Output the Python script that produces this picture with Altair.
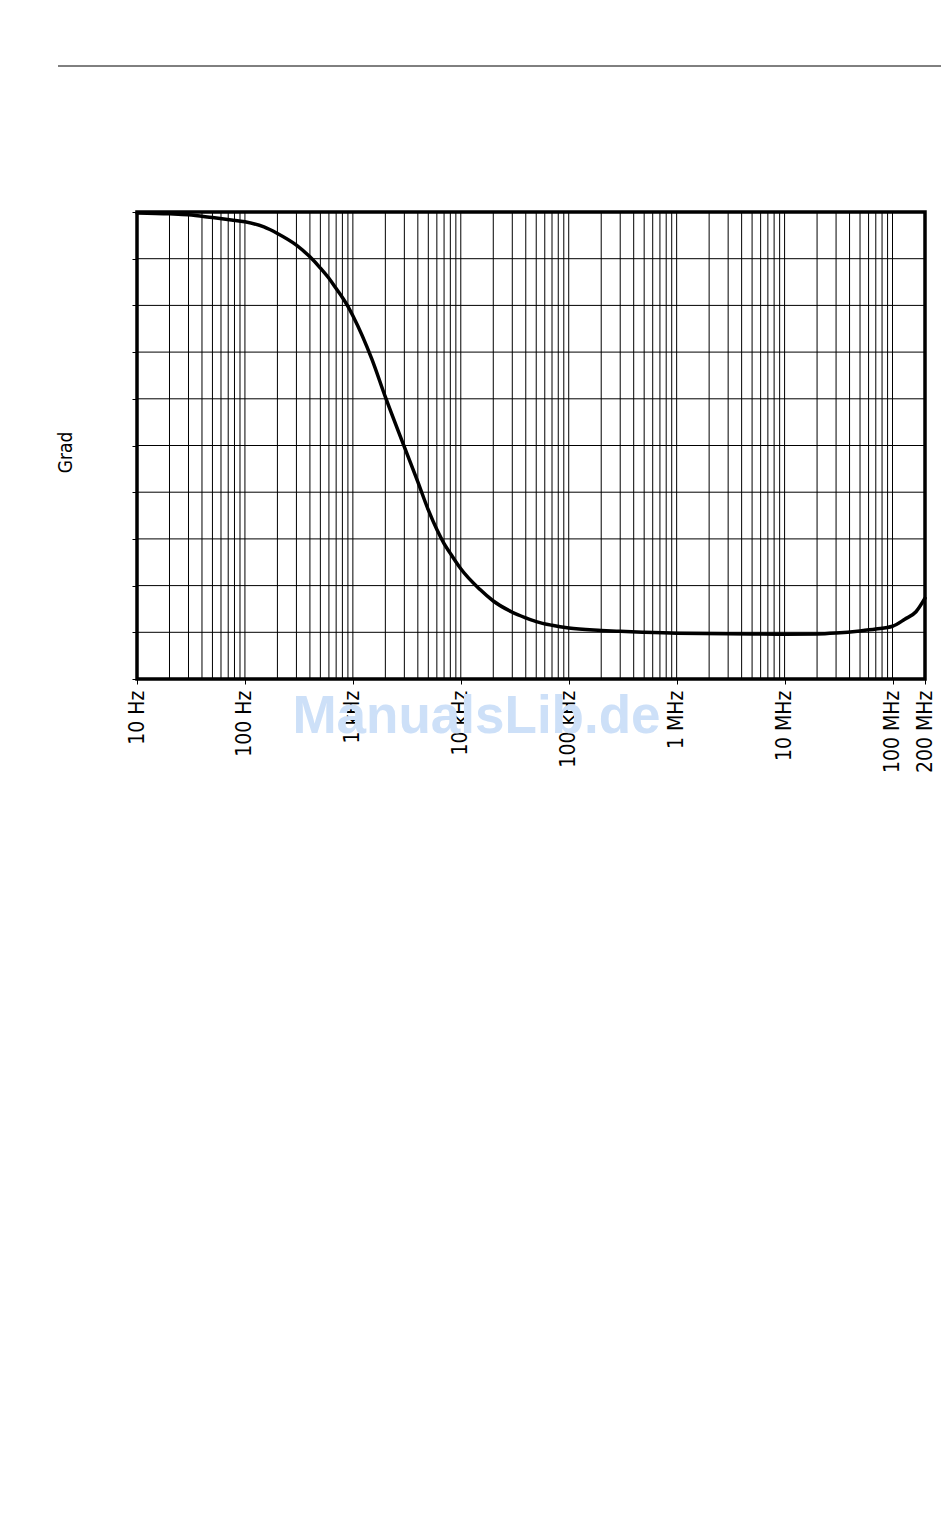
import altair as alt
import pandas as pd

# Curve (frequency in Hz, value in grid units 0..100)
freq_hz = [10, 20, 30, 50, 75, 100, 150, 200, 300, 400, 500, 600, 700, 800, 900,
           1000, 1500, 2000, 3000, 4000, 5000, 6000, 7000, 8000, 9000,
           10000, 15000, 20000, 30000, 40000, 50000, 70000,
           100000, 200000, 300000, 500000,
           1e6, 3e6, 1e7, 2e7, 3e7, 5e7, 7e7, 1e8, 1.3e8, 1.65e8, 2e8]
grad = [99.8, 99.6, 99.4, 98.8, 98.3, 97.9, 96.8, 95.4, 92.9, 90.4, 88.0, 85.8, 83.6, 81.7, 79.8,
        77.8, 68.5, 60.4, 49.7, 42.2, 36.2, 32.0, 29.0, 26.9, 25.1,
        23.6, 19.2, 16.7, 14.3, 13.1, 12.3, 11.5,
        10.9, 10.4, 10.2, 10.0,
        9.8, 9.7, 9.6, 9.65, 9.85, 10.3, 10.7, 11.3, 12.8, 14.4, 17.3]

# Axis ticks and labels
tick_values = [10, 100, 1e3, 1e4, 1e5, 1e6, 1e7, 1e8, 2e8]
tick_labels = ["10 Hz", "100 Hz", "1 kHz", "10 kHz", "100 kHz", "1 MHz", "10 MHz", "100 MHz", "200 MHz"]
y_levels = [0, 10, 20, 30, 40, 50, 60, 70, 80, 90, 100]

# Log grid (1..9 per decade)
grid_freqs = [m * 10 ** k for k in range(1, 8) for m in range(1, 10)] + [1e8]
watermark = "ManualsLib.de"

W, H = 788, 467
FONT = "Liberation Sans Narrow, DejaVu Sans Condensed, Arial Narrow, sans-serif"

curve = pd.DataFrame({"f": freq_hz, "g": grad})
vgrid = pd.DataFrame({"f": grid_freqs})
hgrid = pd.DataFrame({"g": y_levels[1:-1]})

label_expr = "''"
for v, t in reversed(list(zip(tick_values, tick_labels))):
    label_expr = f"(abs(datum.value - {v:.0f}) < {v * 0.01:.3f} ? '{t}' : {label_expr})"

xscale = alt.Scale(type="log", domain=[10, 2e8], nice=False)
yscale = alt.Scale(domain=[0, 100], nice=False)

xaxis = alt.Axis(values=tick_values, title=None, grid=False, domain=False,
                 labelExpr=label_expr,
                 labelAngle=270, labelFont=FONT, labelFontSize=21,
                 labelColor="black", tickColor="black", tickSize=5, tickWidth=1,
                 labelPadding=6, labelFlush=False, labelOverlap=False)
yaxis = alt.Axis(values=y_levels, labels=False, grid=False, domain=False,
                 tickColor="black", tickSize=5, tickWidth=1,
                 title="Grad", titleFont=FONT, titleFontSize=19, titleFontWeight="normal",
                 titleColor="black", titleAngle=270, titleX=-72, titleY=240,
                 titleAlign="center", titleBaseline="middle")

X = lambda: alt.X("f:Q", scale=xscale, axis=xaxis)
Y = lambda: alt.Y("g:Q", scale=yscale, axis=yaxis)

vrules = alt.Chart(vgrid).mark_rule(color="black", strokeWidth=1).encode(x=X())
hrules = alt.Chart(hgrid).mark_rule(color="black", strokeWidth=1).encode(y=Y())

line = alt.Chart(curve).mark_line(color="black", strokeWidth=3.5, strokeJoin="round",
                                  strokeCap="round", interpolate="monotone").encode(x=X(), y=Y())

top_rule = alt.Chart(pd.DataFrame({"a": [0]})).mark_rule(color="black", strokeWidth=1).encode(
    x=alt.value(-79), x2=alt.value(804), y=alt.value(-146)
)

wm = alt.Chart(pd.DataFrame({"t": [watermark]})).mark_text(
    font="Liberation Sans, Arial, sans-serif", fontSize=53, fontWeight="bold",
    color="#cde0f8", align="center", baseline="alphabetic"
).encode(x=alt.value(339.5), y=alt.value(521), text="t:N")

chart = alt.layer(vrules, hrules, line, top_rule, wm).properties(
    width=W, height=H,
    autosize=alt.AutoSizeParams(type="none"),
    padding={"left": 129, "top": 204, "right": 17, "bottom": 110},
    background="white",
).configure_view(stroke="black", strokeWidth=3.5)

chart.save("out.html", embed_options={"renderer": "svg", "actions": False})
